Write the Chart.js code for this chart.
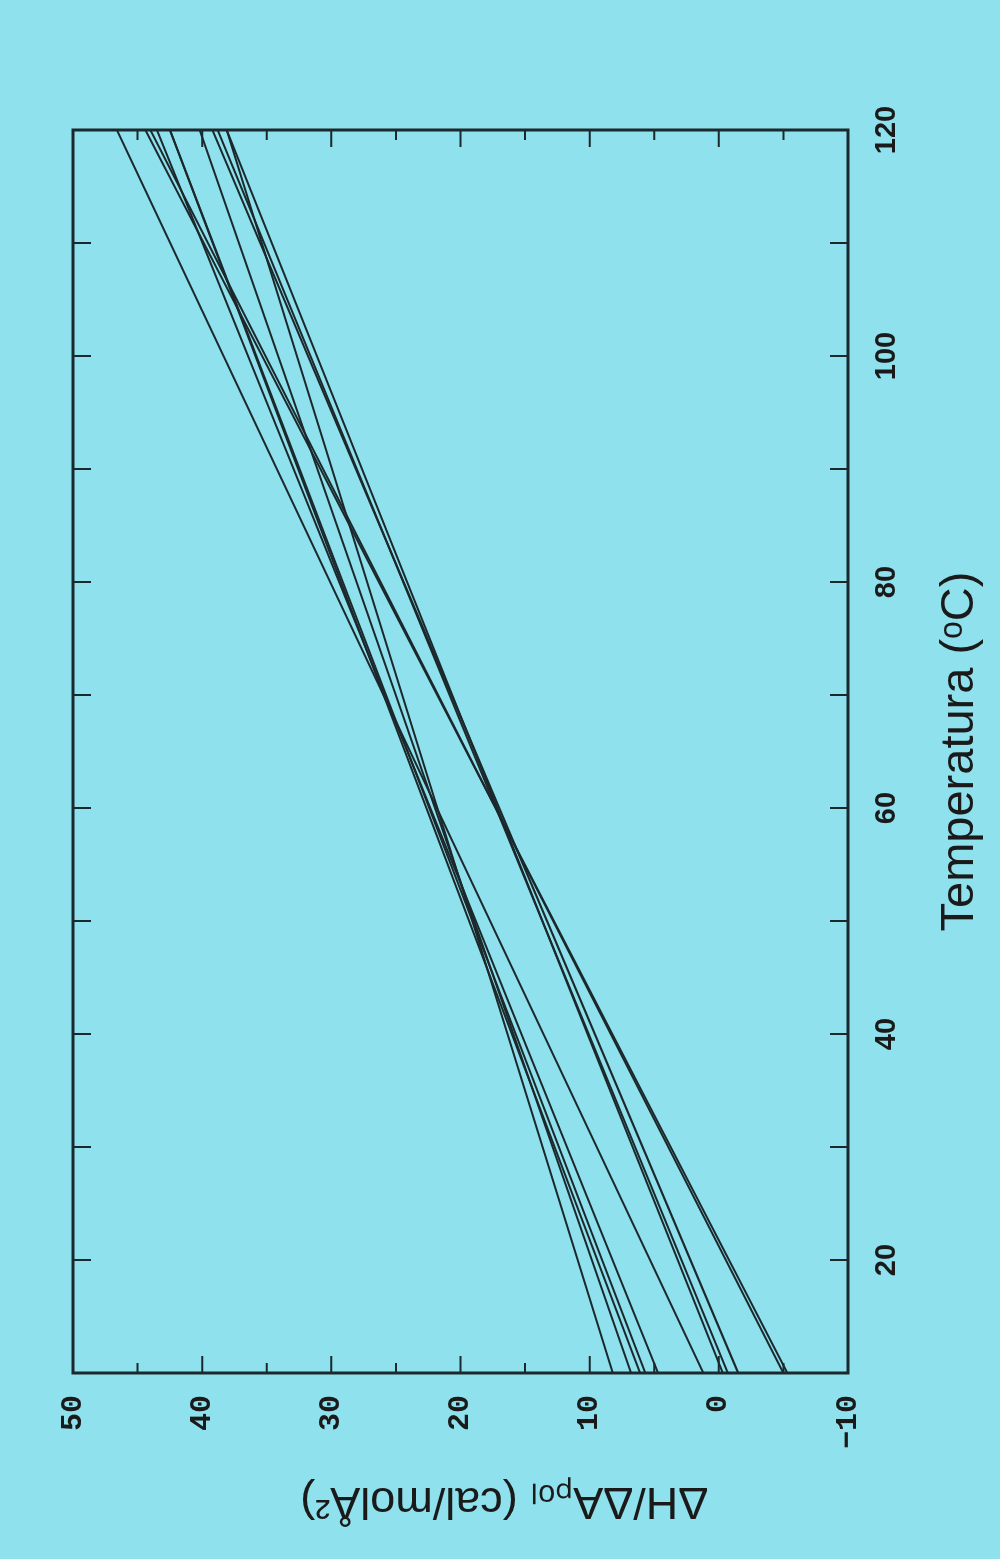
<!DOCTYPE html>
<html>
<head>
<meta charset="utf-8">
<script src="https://cdn.jsdelivr.net/npm/chart.js@4.4.0/dist/chart.umd.min.js"></script>
<style>
    html, body { margin: 0; padding: 0; width: 1000px; height: 1559px; overflow: hidden; background: #8ee1ed; }
    #wrap {
        position: absolute; left: 0; top: 0; width: 1559px; height: 1000px;
        transform-origin: 0 0;
        transform: translateY(1559px) rotate(-90deg);
    }
</style>
</head>
<body>
<div id="wrap"><canvas id="deltaChart" width="1559" height="1000"></canvas></div>
<script>
// temperatures (°C) where every straight line starts and ends
const temps = [10, 120]
// ΔH/ΔApol at 10 °C and at 120 °C, one entry per line
const startValues = [-5.3, -5.0, -1.5, -0.7, -0.3, 1.2, 4.7, 5.7, 6.1, 6.8, 8.2]
const endValues = [44.4, 44.0, 39.2, 38.8, 38.1, 46.6, 43.5, 42.5, 42.5, 40.2, 38.1]
const tempTicks = [20, 40, 60, 80, 100, 120]
const valueTicks = [-10, 0, 10, 20, 30, 40, 50]

const ink = '#1b282c'

// frame with inward tick marks on all four sides
const frameTicks = {
    id: 'frameTicks',
    afterDatasetsDraw(chart) {
        const { ctx, chartArea: a, scales: { x, y } } = chart
        ctx.save()
        ctx.strokeStyle = ink
        ctx.lineWidth = 2
        for (let t = 20; t <= 110; t += 10) {
            const px = x.getPixelForValue(t)
            ctx.beginPath()
            ctx.moveTo(px, a.bottom); ctx.lineTo(px, a.bottom - 18)
            ctx.moveTo(px, a.top); ctx.lineTo(px, a.top + 18)
            ctx.stroke()
        }
        for (let v = -5; v <= 45; v += 5) {
            const py = y.getPixelForValue(v)
            const len = v % 10 === 0 ? 17 : 10
            ctx.beginPath()
            ctx.moveTo(a.left, py); ctx.lineTo(a.left + len, py)
            ctx.moveTo(a.right, py); ctx.lineTo(a.right - len, py)
            ctx.stroke()
        }
        ctx.lineWidth = 3
        ctx.strokeRect(a.left, a.top, a.right - a.left, a.bottom - a.top)
        ctx.restore()
    }
}

const ctx = document.getElementById('deltaChart').getContext('2d');

new Chart(ctx, {
    type: 'scatter',
    data: {
        datasets: startValues.map((s, i) => ({
            data: [{ x: temps[0], y: s }, { x: temps[1], y: endValues[i] }],
            showLine: true,
            borderColor: ink,
            borderWidth: 2,
            pointRadius: 0
        }))
    },
    options: {
        responsive: false,
        animation: false,
        layout: { padding: { top: 73, right: 130, left: 0, bottom: 0 } },
        plugins: { legend: { display: false }, tooltip: { enabled: false } },
        scales: {
            x: {
                type: 'linear',
                min: 10,
                max: 120,
                afterBuildTicks: (s) => { s.ticks = tempTicks.map(v => ({ value: v })) },
                afterFit: (s) => { s.height = 152 },
                grid: { display: false, drawTicks: false },
                border: { display: false },
                ticks: {
                    padding: 22,
                    color: '#1a1a1a',
                    maxRotation: 0,
                    font: { family: 'Liberation Sans', weight: 'bold', size: 29 }
                },
                title: {
                    display: true,
                    text: 'Temperatura (ᵒC)',
                    color: '#1a1a1a',
                    padding: { top: 0, bottom: 12 },
                    font: { family: 'Liberation Sans', size: 47 }
                }
            },
            y: {
                min: -10,
                max: 50,
                afterBuildTicks: (s) => { s.ticks = valueTicks.map(v => ({ value: v })) },
                afterFit: (s) => { s.width = 186 },
                grid: { display: false, drawTicks: false },
                border: { display: false },
                ticks: {
                    padding: 22,
                    color: '#1a1a1a',
                    callback: (v) => String(v).replace('-', '−'),
                    font: { family: 'Liberation Mono', weight: 'bold', size: 30 }
                },
                title: {
                    display: true,
                    text: 'ΔH/ΔAₚₒₗ (cal/molÅ²)       ',
                    color: '#1a1a1a',
                    padding: { top: 32, bottom: 0 },
                    font: { family: 'Liberation Sans', size: 45 }
                }
            }
        }
    },
    plugins: [frameTicks]
})
</script>
</body>
</html>
